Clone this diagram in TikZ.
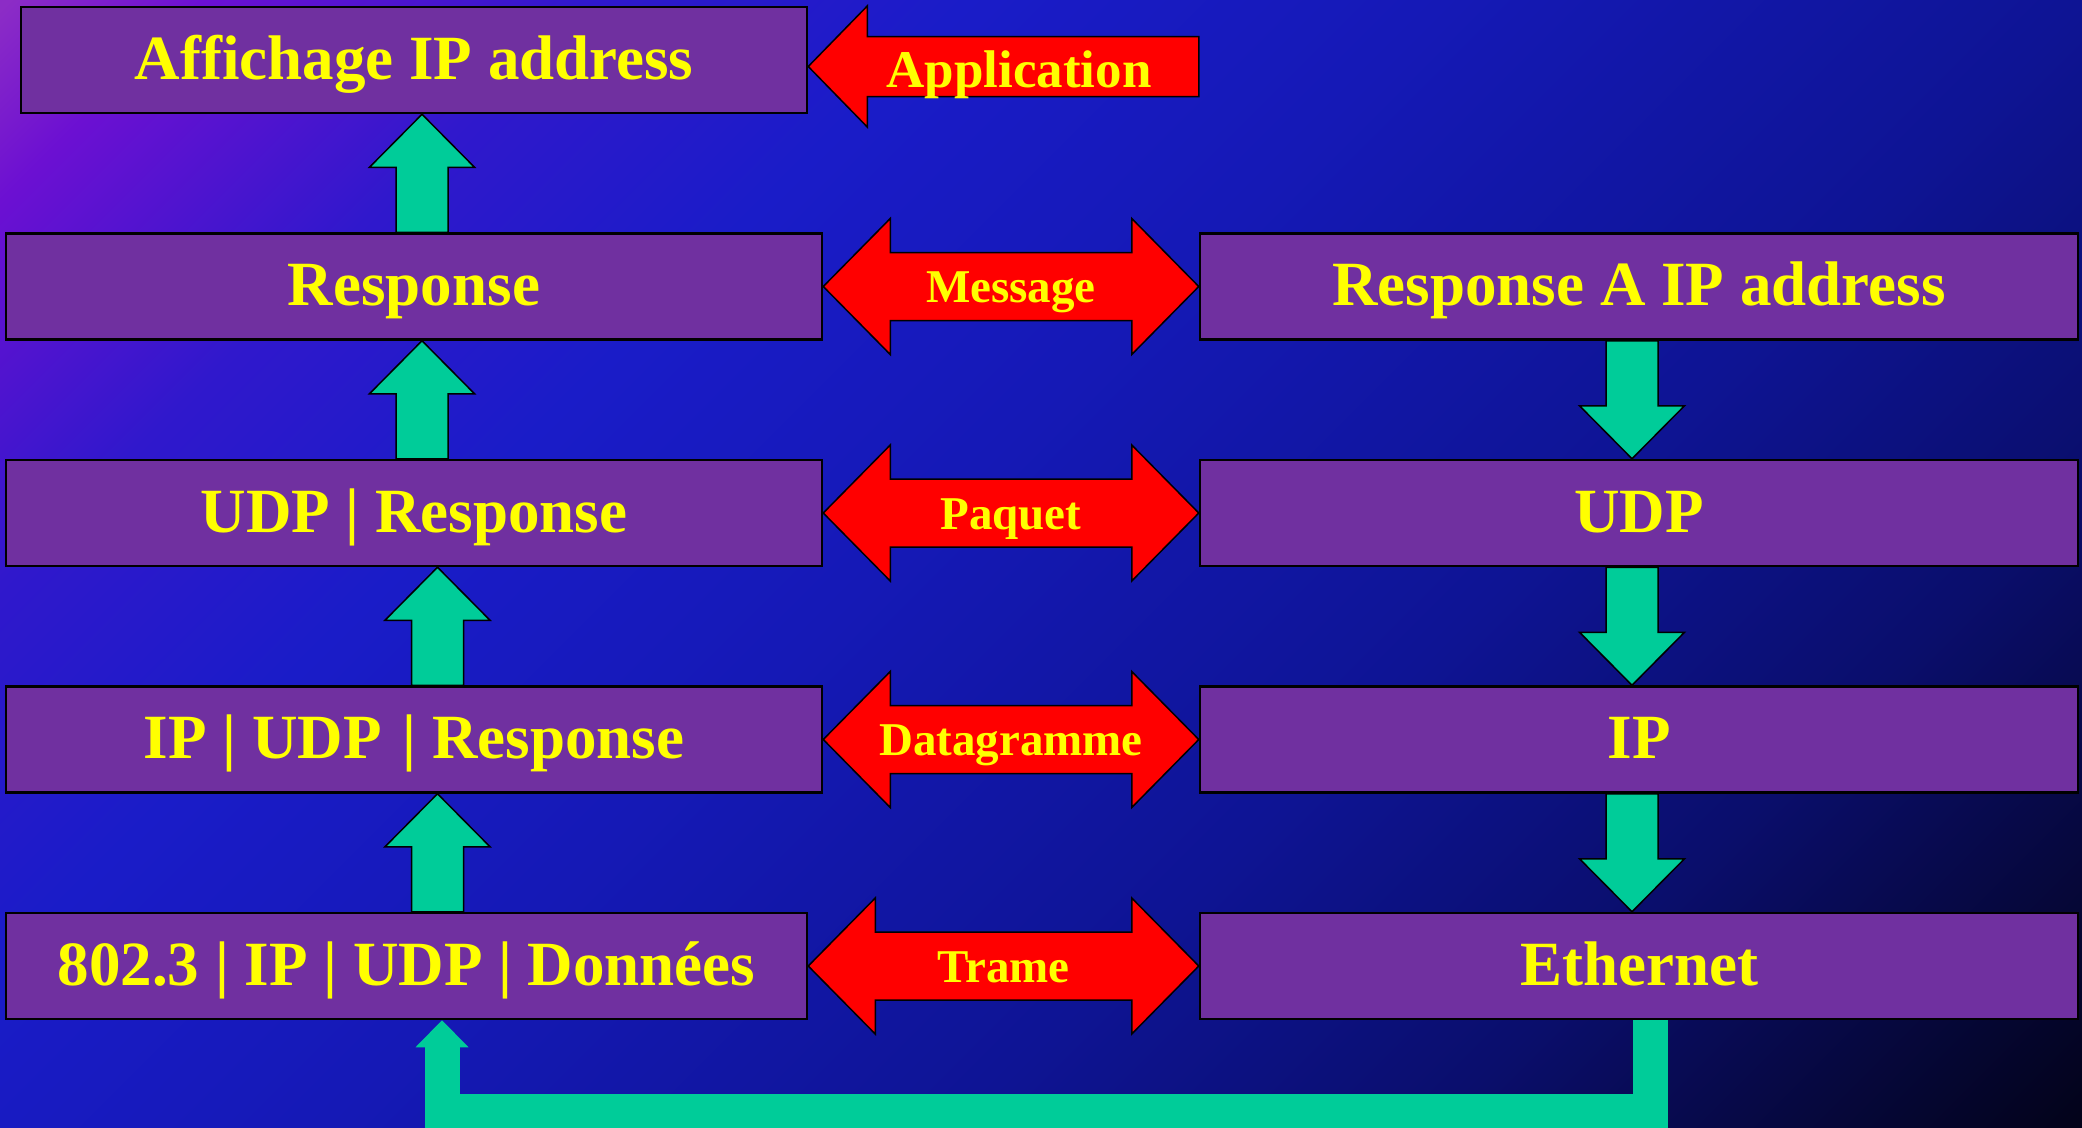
\documentclass[tikz,border=0pt]{standalone}
\usepackage{fontspec}
\setmainfont{Liberation Serif}
\usetikzlibrary{calc}

% palette
\definecolor{boxfill}{HTML}{7030A0}
\definecolor{labelyellow}{HTML}{FFFF00}
\definecolor{flowgreen}{HTML}{00CC99}
\definecolor{bgA}{HTML}{8C2CC6}
\definecolor{bgB}{HTML}{6C10D2}
\definecolor{bgC}{HTML}{3018CC}
\definecolor{bgD}{HTML}{1A1CC8}
\definecolor{bgE}{HTML}{1519B6}
\definecolor{bgF}{HTML}{0E1494}
\definecolor{bgG}{HTML}{0A0E6C}
\definecolor{bgH}{HTML}{03031A}

% diagonal slide backdrop (useful range 25bp..75bp)
\pgfdeclarehorizontalshading{slidebg}{100bp}{%
  color(0bp)=(bgA); color(25bp)=(bgA); color(28bp)=(bgB); color(34bp)=(bgC);
  color(40bp)=(bgD); color(47.5bp)=(bgE); color(57.5bp)=(bgF);
  color(65bp)=(bgG); color(75bp)=(bgH); color(100bp)=(bgH)}

\pgfdeclarelayer{backdrop}
\pgfdeclarelayer{links}
\pgfsetlayers{backdrop,links,main}

\tikzset{
  layerbox/.style={draw=black, line width=2.5pt, fill=boxfill, text=labelyellow,
    minimum height=106pt, inner sep=0pt,
    font=\fontsize{63}{70}\selectfont\bfseries, text height=44pt, text depth=6pt},
  protolabel/.style={text=labelyellow, inner sep=0pt,
    font=\fontsize{47}{52}\selectfont\bfseries, text height=36pt, text depth=4pt},
  applabel/.style={text=labelyellow, inner sep=0pt,
    font=\fontsize{53}{58}\selectfont\bfseries, text height=46pt, text depth=4pt},
  redblock/.style={fill=red, draw=black, line width=1.5pt, line join=miter},
  greenblock/.style={fill=flowgreen, draw=black, line width=1.5pt, line join=miter},
  loopline/.style={draw=flowgreen, line width=35pt, line join=miter},
}

% vertical block arrow: #1 tail, #2 tip, #3 = 1 (pointing up) or -1 (pointing down)
\newcommand\liftarrow[3]{%
  \begin{pgfonlayer}{links}
  \filldraw[greenblock] ($(#1)+(-26,0)$) -- ($(#2)+(-26,#3*53)$) -- ($(#2)+(-52.5,#3*53)$)
    -- (#2) -- ($(#2)+(52.5,#3*53)$) -- ($(#2)+(26,#3*53)$) -- ($(#1)+(26,0)$) -- cycle;
  \end{pgfonlayer}}

% horizontal double block arrow between two tips, with its label
\newcommand\exchange[4]{%
  \begin{pgfonlayer}{links}
  \filldraw[redblock] (#1) -- ($(#1)+(67,-68)$) -- ($(#1)+(67,-34)$) -- ($(#2)+(-67,-34)$)
    -- ($(#2)+(-67,-68)$) -- (#2) -- ($(#2)+(-67,68)$) -- ($(#2)+(-67,34)$)
    -- ($(#1)+(67,34)$) -- ($(#1)+(67,68)$) -- cycle;
  \end{pgfonlayer}
  \node[protolabel] (#3) at ($(#1)!0.5!(#2)$) {#4};}

\begin{document}
\begin{tikzpicture}[x=1pt, y=-1pt]
\useasboundingbox (0,0) rectangle (2082,1127);

\begin{pgfonlayer}{backdrop}
  \begin{scope}
    \clip (0,0) rectangle (2082,1127);
    \fill[shading=slidebg, shading angle=-45] (-93.5,-571) rectangle (2175.5,1698);
  \end{scope}
\end{pgfonlayer}

% receiving stack (left)
\node[layerbox, minimum width=786pt] (l0) at (414,60) {Affichage IP address};
\node[layerbox, minimum width=816pt] (l1) at (414,286.5) {Response};
\node[layerbox, minimum width=816pt] (l2) at (414,513) {UDP | Response};
\node[layerbox, minimum width=816pt] (l3) at (414,739.5) {IP | UDP\hspace{5pt} | Response};
\node[layerbox, minimum width=801pt] (l4) at (406.5,966) {802.3 | IP | UDP | Données};

% sending stack (right)
\node[layerbox, minimum width=878pt] (r1) at (1639,286.5) {Response A IP address};
\node[layerbox, minimum width=878pt] (r2) at (1639,513) {UDP};
\node[layerbox, minimum width=878pt] (r3) at (1639,739.5) {IP};
\node[layerbox, minimum width=878pt] (r4) at (1639,966) {Ethernet};

% application arrow
\coordinate (apptip) at ($(l0.east)+(0,6.5)$);
\coordinate (append) at (apptip -| r1.west);
\begin{pgfonlayer}{links}
  \filldraw[redblock] (apptip) -- ($(apptip)+(59,-60.5)$) -- ($(apptip)+(59,-30)$)
    -- ($(append)+(0,-30)$) -- ($(append)+(0,30)$) -- ($(apptip)+(59,30)$)
    -- ($(apptip)+(59,60.5)$) -- cycle;
\end{pgfonlayer}
\node[applabel] (app) at ($(apptip)!0.54!(append)$) {Application};

% peer exchanges
\exchange{l1.east}{r1.west}{msg}{Message}
\exchange{l2.east}{r2.west}{pkt}{Paquet}
\exchange{l3.east}{r3.west}{dgm}{Datagramme}
\exchange{l4.east}{r4.west}{frm}{Trame}

% upward flow on the left
\coordinate (a1s) at ($(l1.north)+(8,0)$);    \coordinate (a1e) at (a1s |- l0.south);
\coordinate (a2s) at ($(l2.north)+(8,0)$);    \coordinate (a2e) at (a2s |- l1.south);
\coordinate (a3s) at ($(l3.north)+(23.5,0)$); \coordinate (a3e) at (a3s |- l2.south);
\coordinate (a4s) at ($(l4.north)+(31,0)$);   \coordinate (a4e) at (a4s |- l3.south);
\liftarrow{a1s}{a1e}{1}
\liftarrow{a2s}{a2e}{1}
\liftarrow{a3s}{a3e}{1}
\liftarrow{a4s}{a4e}{1}

% downward flow on the right
\coordinate (d1s) at ($(r1.south)+(-7,0)$); \coordinate (d1e) at (d1s |- r2.north);
\coordinate (d2s) at ($(r2.south)+(-7,0)$); \coordinate (d2e) at (d2s |- r3.north);
\coordinate (d3s) at ($(r3.south)+(-7,0)$); \coordinate (d3e) at (d3s |- r4.north);
\liftarrow{d1s}{d1e}{-1}
\liftarrow{d2s}{d2e}{-1}
\liftarrow{d3s}{d3e}{-1}

% physical link back to the receiver
\coordinate (lp0) at ($(r4.south)+(11.5,0)$);
\coordinate (lp3) at ($(l4.south)+(35.5,0)$);
\coordinate (lp2) at ($(lp3)+(0,27)$);
\begin{pgfonlayer}{links}
  \draw[loopline] (lp0) -- ++(0,91) -| ($(lp2)+(0,-1)$);
  \fill[flowgreen] ($(lp2)+(-26.5,0)$) -- (lp3) -- ($(lp2)+(26.5,0)$) -- cycle;
\end{pgfonlayer}
\end{tikzpicture}
\end{document}
